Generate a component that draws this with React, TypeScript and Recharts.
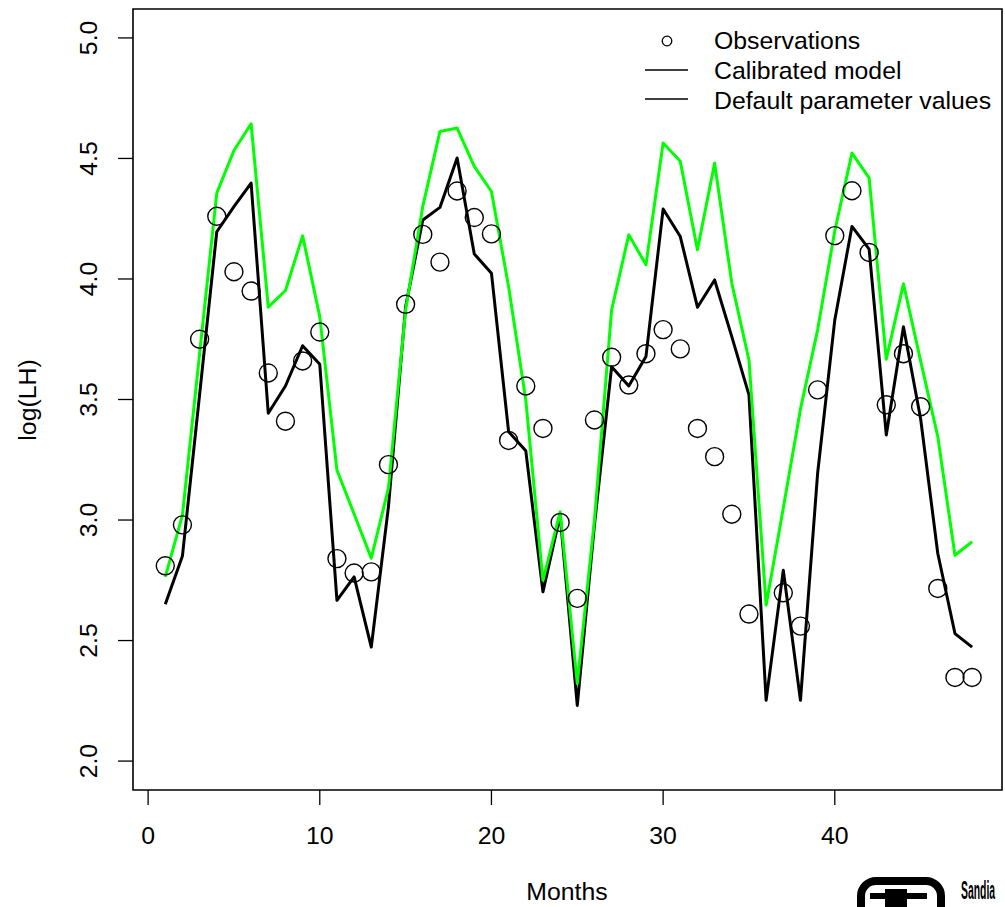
import React from "react";
import {
  ComposedChart,
  Line,
  Scatter,
  XAxis,
  YAxis,
  ReferenceArea,
  Customized,
} from "recharts";

const months = [
  1, 2, 3, 4, 5, 6, 7, 8, 9, 10, 11, 12, 13, 14, 15, 16, 17, 18, 19, 20, 21, 22, 23, 24,
  25, 26, 27, 28, 29, 30, 31, 32, 33, 34, 35, 36, 37, 38, 39, 40, 41, 42, 43, 44, 45, 46, 47, 48,
];

// observed log(LH); month 36 has no observation
const observations: (number | null)[] = [
  2.81, 2.98, 3.75, 4.26, 4.03, 3.95, 3.61, 3.41, 3.66, 3.78, 2.84, 2.78,
  2.785, 3.23, 3.895, 4.185, 4.07, 4.365, 4.255, 4.187, 3.33, 3.556, 3.38, 2.99,
  2.675, 3.415, 3.675, 3.56, 3.69, 3.79, 3.71, 3.38, 3.263, 3.024, 2.61, null,
  2.698, 2.56, 3.54, 4.18, 4.366, 4.11, 3.478, 3.69, 3.47, 2.716, 2.347, 2.347,
];

const calibrated = [
  2.651, 2.851, 3.52, 4.196, 4.3, 4.398, 3.443, 3.556, 3.723, 3.646, 2.667, 2.764,
  2.473, 3.055, 3.885, 4.245, 4.297, 4.502, 4.104, 4.024, 3.366, 3.287, 2.702, 3.02,
  2.231, 2.98, 3.636, 3.556, 3.678, 4.29, 4.176, 3.883, 3.996, 3.761, 3.519, 2.252,
  2.792, 2.252, 3.194, 3.83, 4.218, 4.124, 3.353, 3.802, 3.42, 2.861, 2.529, 2.473,
];

const defaults = [
  2.764, 3.02, 3.69, 4.356, 4.533, 4.644, 3.883, 3.952, 4.179, 3.844, 3.207, 3.025,
  2.842, 3.132, 3.872, 4.301, 4.612, 4.626, 4.467, 4.363, 3.968, 3.498, 2.75, 3.034,
  2.321, 3.0, 3.872, 4.183, 4.059, 4.564, 4.488, 4.121, 4.481, 3.983, 3.664, 2.647,
  3.05, 3.46, 3.789, 4.2, 4.522, 4.419, 3.667, 3.98, 3.66, 3.346, 2.854, 2.91,
];

const xTicks = [0, 10, 20, 30, 40];
const yTicks = [2, 2.5, 3, 3.5, 4, 4.5, 5];
const xDomain = [-0.88, 49.74];
const yDomain = [1.88, 5.12];

const modelData = months.map((m, i) => ({
  month: m,
  calibrated: calibrated[i],
  defaults: defaults[i],
}));

const obsData = months
  .map((m, i) => ({ month: m, obs: observations[i] }))
  .filter((d) => d.obs !== null);

const FONT = "'Liberation Sans', Arial, Helvetica, sans-serif";
const FS = 24.8;

const XTick = (props: any) => {
  const { x, y, payload } = props;
  return (
    <text x={x} y={y} dy={37} textAnchor="middle" fontSize={FS} fontFamily={FONT} fill="#000">
      {payload.value}
    </text>
  );
};

const YTick = (props: any) => {
  const { x, y, payload } = props;
  return (
    <text
      transform={`translate(${x - 19},${y}) rotate(-90)`}
      textAnchor="middle"
      fontSize={FS}
      fontFamily={FONT}
      fill="#000"
    >
      {Number(payload.value).toFixed(1)}
    </text>
  );
};

const ObsCircle = (props: any) => {
  const { cx, cy } = props;
  if (cx == null || cy == null) return null;
  return <circle cx={cx} cy={cy} r={9} fill="none" stroke="#000" strokeWidth={1.4} />;
};

// axis titles, legend and the logo in the corner
const Overlay = () => (
  <g fontFamily={FONT} fill="#000">
    <text transform="translate(36,400) rotate(-90)" textAnchor="middle" fontSize={FS}>
      log(LH)
    </text>
    <text x={567} y={900} textAnchor="middle" fontSize={FS}>
      Months
    </text>

    <circle cx={667} cy={41} r={4.8} fill="none" stroke="#000" strokeWidth={1.3} />
    <line x1={645} x2={688} y1={70} y2={70} stroke="#000" strokeWidth={1.5} />
    <line x1={645} x2={688} y1={99} y2={99} stroke="#000" strokeWidth={1.5} />
    <text x={714} y={48.5} fontSize={FS}>Observations</text>
    <text x={714} y={78.5} fontSize={FS}>Calibrated model</text>
    <text x={714} y={108.5} fontSize={FS}>Default parameter values</text>

    <rect x={861} y={881} width={80} height={60} rx={15} fill="none" stroke="#000" strokeWidth={8} />
    <rect x={870} y={893} width={57} height={6} fill="#000" />
    <rect x={885} y={889} width={22} height={30} fill="#000" />
    <text transform="translate(961,899) scale(0.4,1)" fontSize={26} fontWeight="bold">
      Sandia
    </text>
  </g>
);

export default function App() {
  return (
    <div style={{ position: "absolute", left: 0, top: 0, width: 1005, height: 907, background: "#fff" }}>
      <ComposedChart
        width={1005}
        height={907}
        data={modelData}
        margin={{ top: 9, right: 3, bottom: 0, left: 0 }}
      >
        <XAxis
          dataKey="month"
          type="number"
          domain={xDomain}
          allowDataOverflow
          ticks={xTicks}
          height={117}
          axisLine={false}
          tickSize={15}
          tickLine={{ stroke: "#000", strokeWidth: 1.3 }}
          tick={<XTick />}
        />
        <YAxis
          type="number"
          domain={yDomain}
          allowDataOverflow
          ticks={yTicks}
          width={133}
          axisLine={false}
          tickSize={15}
          tickLine={{ stroke: "#000", strokeWidth: 1.3 }}
          tick={<YTick />}
        />
        <ReferenceArea
          x1={xDomain[0]}
          x2={xDomain[1]}
          y1={yDomain[0]}
          y2={yDomain[1]}
          fill="none"
          fillOpacity={0}
          stroke="#000"
          strokeWidth={1.6}
        />
        <Scatter data={obsData} dataKey="obs" shape={<ObsCircle />} isAnimationActive={false} />
        <Line
          dataKey="calibrated"
          stroke="#000"
          strokeWidth={3}
          dot={false}
          activeDot={false}
          strokeLinejoin="round"
          isAnimationActive={false}
        />
        <Line
          dataKey="defaults"
          stroke="#00ff00"
          strokeWidth={3}
          dot={false}
          activeDot={false}
          strokeLinejoin="round"
          isAnimationActive={false}
        />
        <Customized component={Overlay} />
      </ComposedChart>
    </div>
  );
}
